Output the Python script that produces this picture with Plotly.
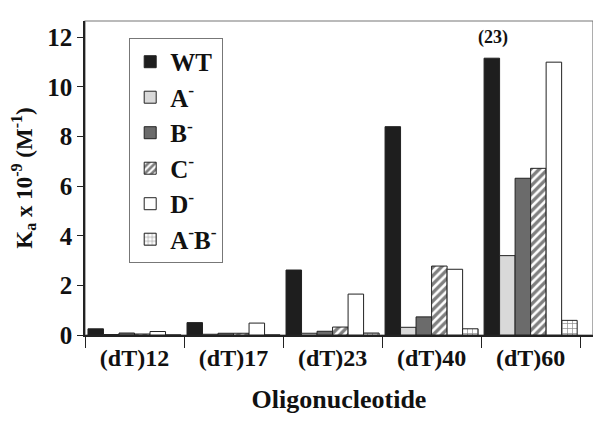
import plotly.graph_objects as go

categories = ["(dT)12", "(dT)17", "(dT)23", "(dT)40", "(dT)60"]
series_names = ["WT", "A<sup>-</sup>", "B<sup>-</sup>", "C<sup>-</sup>", "D<sup>-</sup>", "A<sup>-</sup>B<sup>-</sup>"]
wt = [0.25, 0.50, 2.62, 8.40, 11.16]
a_minus = [0.02, 0.03, 0.07, 0.31, 3.20]
b_minus = [0.08, 0.07, 0.15, 0.73, 6.32]
c_minus = [0.04, 0.07, 0.32, 2.78, 6.72]
d_minus = [0.14, 0.48, 1.65, 2.65, 11.00]
ab_minus = [0.0, 0.0, 0.08, 0.25, 0.59]
y_ticks = [0, 2, 4, 6, 8, 10, 12]

FONT = "Liberation Serif"

styles = [
    dict(color="#1e1e1e", pattern=None),
    dict(color="#d9d9d9", pattern=None),
    dict(color="#6b6b6b", pattern=None),
    dict(color="white", pattern=dict(shape="/", fgcolor="#000000", bgcolor="white", size=6, solidity=0.55)),
    dict(color="white", pattern=None),
    dict(color="white", pattern=dict(shape="+", fgcolor="#111111", bgcolor="white", size=5, solidity=0.25)),
]
values = [wt, a_minus, b_minus, c_minus, d_minus, ab_minus]

fig = go.Figure()
for i, (name, vals, st) in enumerate(zip(series_names, values, styles)):
    marker = dict(color=st["color"], line=dict(color="#222222", width=1))
    if st["pattern"]:
        marker["pattern"] = st["pattern"]
    fig.add_trace(go.Bar(x=categories, y=vals, name=name, marker=marker, legendgroup=str(i)))

fig.add_annotation(x=4, y=11.16, xshift=-38, text="(23)", showarrow=False,
                   yanchor="bottom", yshift=8,
                   font=dict(family=FONT, size=18, color="#111", weight="bold"))

fig.update_layout(
    width=593, height=417,
    margin=dict(l=77, r=8, t=13, b=90, autoexpand=False),
    paper_bgcolor="white", plot_bgcolor="white",
    barmode="group", bargap=0.06, bargroupgap=0,
    font=dict(family=FONT, color="#111111", weight="bold"),
    showlegend=True,
    legend=dict(x=0.087, y=0.946, xanchor="left", yanchor="top",
                bordercolor="#777777", borderwidth=1, bgcolor="white",
                font=dict(family=FONT, size=25, color="#111", weight="bold"),
                tracegroupgap=0, itemwidth=30),
    xaxis=dict(showline=True, linecolor="#222", linewidth=1.5, automargin=False,
               ticks="outside", tickson="boundaries", ticklen=11, tickcolor="#222",
               tickfont=dict(family=FONT, size=24, color="#111", weight="bold"),
               range=[-0.5, 4.63],
               title=dict(text="Oligonucleotide", font=dict(family=FONT, size=26, color="#111", weight="bold"), standoff=20)),
    yaxis=dict(showline=True, linecolor="#222", linewidth=1.5, automargin=False,
               ticks="outside", ticklen=6, tickcolor="#222", tickvals=y_ticks,
               tickfont=dict(family=FONT, size=25, color="#111", weight="bold"),
               range=[0, 12.66], showgrid=False, zeroline=False,
               title=dict(text="K<sub>a</sub> x 10<sup>-9</sup> (M<sup>-1</sup>)",
                          font=dict(family=FONT, size=23, color="#111", weight="bold"), standoff=12)),
)
fig.add_shape(type="rect", xref="paper", yref="paper", x0=0, x1=1, y0=0, y1=1,
              line=dict(color="#777777", width=1.2), layer="below")

fig.write_html("out.html")
